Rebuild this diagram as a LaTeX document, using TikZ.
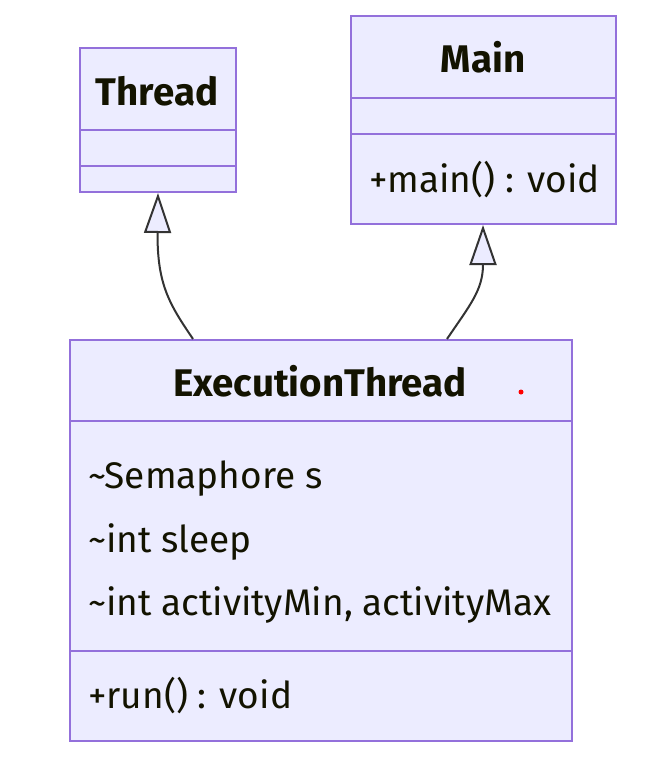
\documentclass[tikz,border=0pt]{standalone}
\usepackage{fontspec}
\setmainfont{Fira Sans}
\usetikzlibrary{arrows.meta}
\definecolor{boxfill}{HTML}{ECECFF}
\definecolor{boxline}{HTML}{9370DB}
\definecolor{txt}{HTML}{131300}
\definecolor{edge}{HTML}{333333}
\tikzset{
  umlbox/.style={draw=boxline, fill=boxfill, line width=2pt, rectangle, inner sep=0pt, anchor=north west},
  divider/.style={draw=boxline, line width=2pt},
  title/.style={font=\fontsize{38.5}{44}\selectfont\bfseries, text=txt, inner sep=0pt, anchor=base},
  member/.style={font=\fontsize{37}{44}\selectfont, text=txt, inner sep=0pt, anchor=base west},
  ext/.style={draw=edge, line width=2pt, -{Triangle[length=40pt, width=27pt, fill=boxfill, line join=miter]}},
}
\begin{document}
\begin{tikzpicture}[x=1pt, y=-1pt]
\useasboundingbox (0,0) rectangle (658,760);
% Thread
\node[umlbox, minimum width=156pt, minimum height=144pt] (thread) at (79,47) {};
\draw[divider] (79,130) -- (235,130);
\draw[divider] (79,166) -- (235,166);
\node[title] (threadt) at (157,105) {Thread};
% Main
\node[umlbox, minimum width=265pt, minimum height=208pt] (main) at (350,15) {};
\draw[divider] (350,98) -- (615,98);
\draw[divider] (350,134) -- (615,134);
\node[title] (maint) at (483,73) {Main};
\node[member] (mainm) at (369,192) {+main() : void};
% ExecutionThread
\node[umlbox, minimum width=502pt, minimum height=401pt] (exec) at (69,339) {};
\draw[divider] (69,421) -- (571,421);
\draw[divider] (69,651) -- (571,651);
\node[title] (exect) at (320,396) {ExecutionThread};
\node[member] (m1) at (88,488) {\textasciitilde Semaphore s};
\node[member] (m2) at (88,552) {\textasciitilde int sleep};
\node[member] (m3) at (88,615) {\textasciitilde int activityMin, activityMax};
\node[member] (m4) at (88,708) {+run() : void};
\fill[red] (521,392) circle (2.5pt);
% edges
\coordinate (e1) at (193,339);
\coordinate (e2) at (447,339);
\draw[ext] (e1) .. controls (170,305) and (157,285) .. (thread.south);
\draw[ext] (e2) .. controls (470,305) and (483,290) .. (main.south -| 483,0);
\end{tikzpicture}
\end{document}
